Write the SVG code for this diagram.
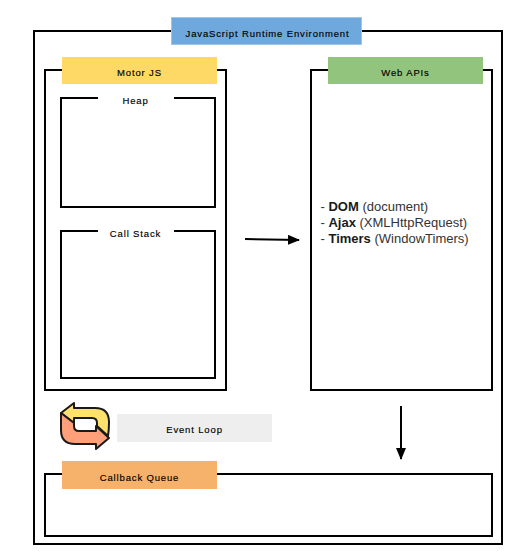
<svg xmlns="http://www.w3.org/2000/svg" width="519" height="558" viewBox="0 0 519 558">
<style>
.box{fill:none;stroke:#000;stroke-width:2}
.inner{fill:none;stroke:#000;stroke-width:2}
.lbl{font-family:"Liberation Sans",Arial,sans-serif;font-size:9.500px;letter-spacing:.85px;fill:#000;stroke:#000;stroke-width:.15px;text-anchor:middle}
.api{font-family:"Liberation Sans",Arial,sans-serif;font-size:13px;fill:#333}
.api tspan{font-weight:bold;fill:#1a1a1a}
.conn{fill:none;stroke:#000;stroke-width:2}
</style>
<defs>
<marker id="arrow" markerUnits="userSpaceOnUse" markerWidth="12" markerHeight="10" refX="11" refY="5" orient="auto"><path d="M0,0 L12,5 L0,10 Z" fill="#000"/></marker>
</defs>
<rect width="519" height="558" fill="#fff"/>
<g id="runtime"><rect class="box" x="34" y="31" width="468" height="513"/><rect x="171.500" y="17.500" width="190" height="27" fill="#6fa8dc" stroke="#9fc5e8" stroke-width="1"/><text class="lbl" x="267.500" y="37">JavaScript Runtime Environment</text></g>
<g id="motor"><rect class="box" x="45" y="70" width="181" height="320"/><rect x="62" y="57" width="155" height="27" fill="#ffd966"/><text class="lbl" x="139.500" y="76">Motor JS</text></g>
<g id="heap"><rect class="inner" x="61" y="98" width="154" height="109"/><rect x="98" y="92" width="76" height="14" fill="#fff"/><text class="lbl" x="135.500" y="104">Heap</text></g>
<g id="stack"><rect class="inner" x="61" y="231" width="154" height="147"/><rect x="98" y="225" width="76" height="14" fill="#fff"/><text class="lbl" x="135.500" y="237">Call Stack</text></g>
<g id="webapi"><rect class="box" x="311" y="70" width="181" height="320"/><rect x="328" y="57" width="155" height="27" fill="#93c47d"/><text class="lbl" x="405.500" y="76">Web APIs</text>
<text class="api" x="320.500" y="211">- <tspan>DOM</tspan> (document)</text><text class="api" x="320.500" y="227">- <tspan>Ajax</tspan> (XMLHttpRequest)</text><text class="api" x="320.500" y="243">- <tspan>Timers</tspan> (WindowTimers)</text></g>
<g id="loop-icon" stroke="#1a1a1a" stroke-width="2" stroke-linejoin="round">
<path d="M74,403 L61,413 L74,423 L74,418 L92,418 Q97,418 97,423 L97,426 L108,436 Q109,430 109,422 Q109,408 95,408 L74,408 Z" fill="#ffe26e"/>
<path d="M61,413 L74,423 L74,426 Q74,431 79,431 L96,431 L96,426 L109,438 L96,449 L96,444 L75,444 Q61,444 61,430 Z" fill="#ffa07a"/>
</g>
<g id="event-loop"><rect x="117" y="414" width="155" height="28" fill="#eee"/><text class="lbl" x="194.500" y="433">Event Loop</text></g>
<g id="queue"><rect class="box" x="45" y="474" width="447" height="62"/><rect x="62" y="461" width="155" height="28" fill="#f6b26b"/><text class="lbl" x="139.500" y="481">Callback Queue</text></g>
<g id="connectors"><path class="conn" d="M245,239 L299,240" marker-end="url(#arrow)"/><path class="conn" d="M401,406 L401,459" marker-end="url(#arrow)"/></g>
</svg>
